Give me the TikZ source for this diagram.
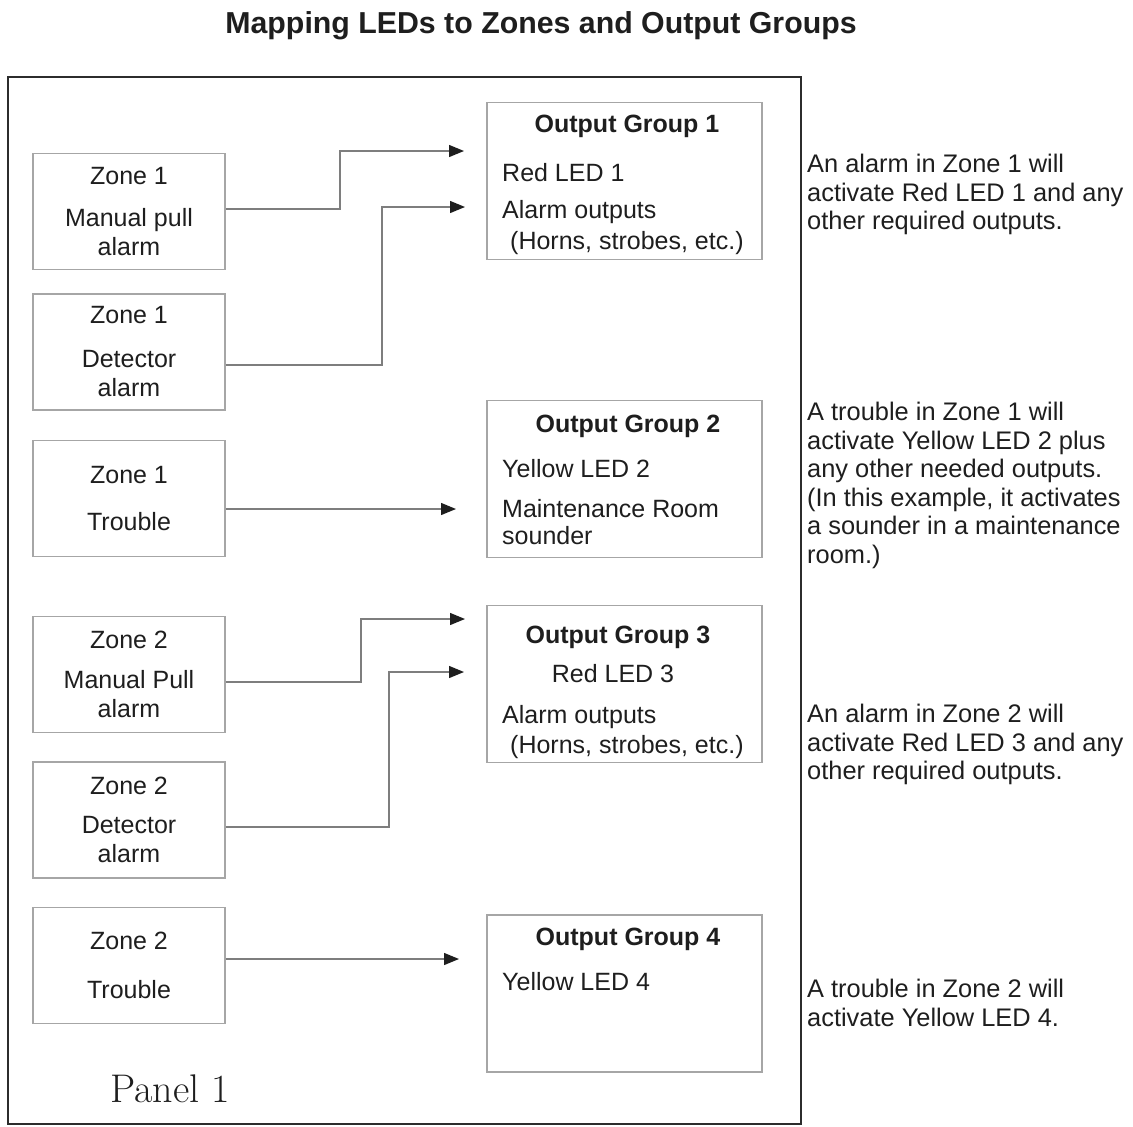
\documentclass[tikz,border=0pt]{standalone}
\usepackage{fontspec}
\newfontfamily\sansarial{Liberation Sans}
\usetikzlibrary{arrows.meta}

\definecolor{inkgray}{HTML}{1E1E1E}
\definecolor{boxgray}{HTML}{A6A6A6}
\definecolor{wiregray}{HTML}{7E7E7E}
\definecolor{panelgray}{HTML}{2C2C2C}

\newcommand{\ledfont}{\sansarial\fontsize{25}{29}\selectfont}
\newcommand{\notefont}{\sansarial\fontsize{25.4}{28.5}\selectfont}

\begin{document}
\begin{tikzpicture}[x=1pt, y=-1pt, text=inkgray]
    % --- styles ---
    \tikzstyle{zonebox}=[draw=boxgray, line width=1.4pt, minimum width=192pt, minimum height=116pt, align=center, inner sep=0pt, font=\ledfont]
    \tikzstyle{groupbox}=[draw=boxgray, line width=1.4pt, minimum width=275pt, minimum height=157pt, inner sep=0pt]
    \tikzstyle{grouptitle}=[anchor=base, inner sep=0pt, font=\ledfont\bfseries]
    \tikzstyle{groupline}=[anchor=base west, inner sep=0pt, font=\ledfont]
    \tikzstyle{note}=[anchor=north west, align=left, inner sep=0pt, font=\notefont]
    \tikzstyle{wire}=[draw=wiregray, line width=1.3pt, -{Triangle[length=15pt,width=12pt,color=inkgray]}]

    \useasboundingbox (0,0) rectangle (1133,1127);

    % title and panel
    \node[anchor=base, inner sep=0pt, font=\sansarial\bfseries\fontsize{30.3}{36}\selectfont] (title) at (541,33) {Mapping LEDs to Zones and Output Groups};
    \draw[panelgray, line width=2.6pt] (8,77) rectangle (801,1124);
    \node[anchor=base west, inner sep=0pt, font=\fontsize{40}{44}\selectfont] (panel) at (110,1102) {Panel 1};

    % ====== zones ======
    \node[zonebox] (z1m) at (129,211.5) {Zone 1\\[13pt]Manual pull\\alarm};
    \node[zonebox] (z1d) at (129,352) {Zone 1\\[15pt]Detector\\alarm};
    \node[zonebox] (z1t) at (129,498.5) {Zone 1\\[18pt]Trouble};
    \node[zonebox] (z2m) at (129,674.5) {Zone 2\\[11pt]Manual Pull\\alarm};
    \node[zonebox] (z2d) at (129,820) {Zone 2\\[10pt]Detector\\alarm};
    \node[zonebox] (z2t) at (129,965.5) {Zone 2\\[20pt]Trouble};

    % ====== output groups ======
    \node[groupbox] (og1) at (624.5,181) {};
    \node[grouptitle] (og1t) at (627,132) {Output Group 1};
    \node[groupline] (og1a) at (502,181) {Red LED 1};
    \node[groupline] (og1b) at (502,218) {Alarm outputs};
    \node[groupline] (og1c) at (510,249) {(Horns, strobes, etc.)};

    \node[groupbox] (og2) at (624.5,479) {};
    \node[grouptitle] (og2t) at (628,432) {Output Group 2};
    \node[groupline] (og2a) at (502,477) {Yellow LED 2};
    \node[groupline] (og2b) at (502,517) {Maintenance Room};
    \node[groupline] (og2c) at (502,544) {sounder};

    \node[groupbox] (og3) at (624.5,684) {};
    \node[grouptitle] (og3t) at (618,643) {Output Group 3};
    \node[grouptitle, font=\ledfont] (og3a) at (613,682) {Red LED 3};
    \node[groupline] (og3b) at (502,723) {Alarm outputs};
    \node[groupline] (og3c) at (510,753) {(Horns, strobes, etc.)};

    \node[groupbox] (og4) at (624.5,993.5) {};
    \node[grouptitle] (og4t) at (628,945) {Output Group 4};
    \node[groupline] (og4a) at (502,990) {Yellow LED 4};

    % ====== connectors ======
    \coordinate (b1) at (340,151);  \coordinate (in1) at (464,151);
    \coordinate (b2) at (382,207);  \coordinate (in2) at (465,207);
    \coordinate (in3) at (456,509);
    \coordinate (b4) at (361,619);  \coordinate (in4) at (465,619);
    \coordinate (b5) at (389,672);  \coordinate (in5) at (464,672);
    \coordinate (in6) at (459,959);

    \draw[wire] ([yshift=2.5pt]z1m.east) -| (b1) -- (in1);
    \draw[wire] ([yshift=-13pt]z1d.east) -| (b2) -- (in2);
    \draw[wire] ([yshift=-10.5pt]z1t.east) -- (in3);
    \draw[wire] ([yshift=-7.5pt]z2m.east) -| (b4) -- (in4);
    \draw[wire] ([yshift=-7pt]z2d.east) -| (b5) -- (in5);
    \draw[wire] ([yshift=6.5pt]z2t.east) -- (in6);

    % ====== notes ======
    \node[note] (n1) at (807,154) {An alarm in Zone 1 will\\activate Red LED 1 and any\\other required outputs.};
    \node[note] (n2) at (807,402) {A trouble in Zone 1 will\\activate Yellow LED 2 plus\\any other needed outputs.\\(In this example, it activates\\a sounder in a maintenance\\room.)};
    \node[note] (n3) at (807,704) {An alarm in Zone 2 will\\activate Red LED 3 and any\\other required outputs.};
    \node[note] (n4) at (807,979) {A trouble in Zone 2 will\\activate Yellow LED 4.};
\end{tikzpicture}
\end{document}
